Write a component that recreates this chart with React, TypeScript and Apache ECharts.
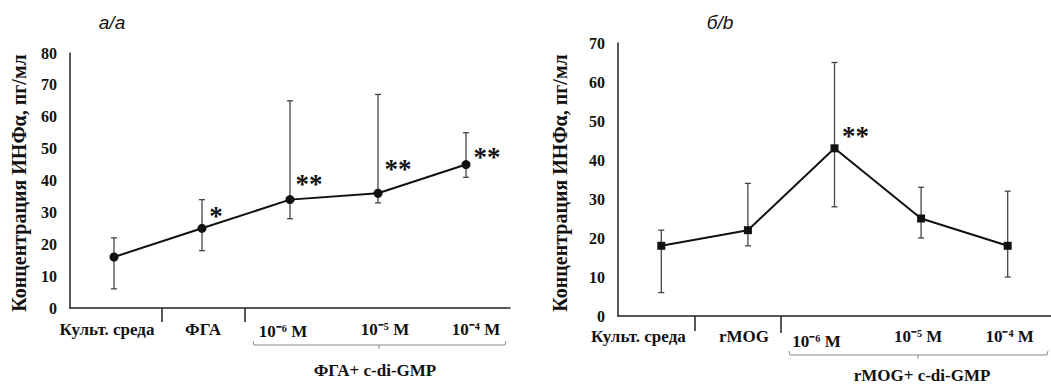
import React, { useEffect, useRef } from "react";
import * as echarts from "echarts";

// ---- data ----
const catsA = ["Культ. среда", "ФГА", "10⁻⁶ M", "10⁻⁵ M", "10⁻⁴ M"];
const meanA = [16, 25, 34, 36, 45];
const lowA = [6, 18, 28, 33, 41];
const highA = [22, 34, 65, 67, 55];
const starsA = ["", "*", "**", "**", "**"];

const catsB = ["Культ. среда", "rMOG", "10⁻⁶ M", "10⁻⁵ M", "10⁻⁴ M"];
const meanB = [18, 22, 43, 25, 18];
const lowB = [6, 18, 28, 20, 10];
const highB = [22, 34, 65, 33, 32];
const starsB = ["", "", "**", "", ""];

const yTitle = "Концентрация ИНФα, пг/мл";
const groupA = "ФГА+ c-di-GMP";
const groupB = "rMOG+ c-di-GMP";
const panelA = "а/a";
const panelB = "б/b";

// ---- styles ----
const SERIF = '"Liberation Serif", "Times New Roman", serif';
const SANS = '"Liberation Sans", Arial, sans-serif';
const AXIS = "#222";
// label padding [top, right, bottom, left] to nudge category labels
const padA = [[0, 14, 0, 0], [0, 0, 0, 2], [2, 14, 0, 0], [0, 0, 0, 14], [0, 0, 0, 20]];
const padB = [[0, 46, 0, 0], [0, 8, 0, 0], [5, 36, 0, 0], [0, 6, 0, 0], [0, 0, 0, 4]];
const starOffA = [[0, 0], [14, -12], [19, -16], [20, -24], [21, -8]];
const starOffB = [[0, 0], [0, 0], [21, -12], [0, 0], [0, 0]];

function errorRender(params: any, api: any) {
  const x = api.value(0);
  const lo = api.coord([x, api.value(1)]);
  const hi = api.coord([x, api.value(2)]);
  const w = 3;
  const style = { stroke: "#444", lineWidth: 1.3 };
  return {
    type: "group",
    children: [
      { type: "line", shape: { x1: lo[0], y1: lo[1], x2: hi[0], y2: hi[1] }, style },
      { type: "line", shape: { x1: lo[0] - w, y1: lo[1], x2: lo[0] + w, y2: lo[1] }, style },
      { type: "line", shape: { x1: hi[0] - w, y1: hi[1], x2: hi[0] + w, y2: hi[1] }, style },
    ],
  };
}

function xAxisFor(cats: string[], pads: number[][], gridIndex: number, margin: number) {
  return {
    type: "category",
    gridIndex,
    data: cats.map((c, i) => ({ value: c, textStyle: { padding: pads[i] } })),
    boundaryGap: true,
    axisLine: { lineStyle: { color: AXIS, width: 1.5 } },
    axisTick: { show: false },
    axisLabel: {
      interval: 0,
      margin,
      fontFamily: SERIF,
      fontWeight: "bold",
      fontSize: 17,
      color: "#111",
    },
    splitLine: { show: false },
  };
}

function yAxisFor(max: number, gridIndex: number) {
  return {
    type: "value",
    gridIndex,
    min: 0,
    max,
    interval: 10,
    axisLine: { show: true, lineStyle: { color: AXIS, width: 1.5 } },
    axisTick: { show: false },
    splitLine: { show: false },
    axisLabel: {
      margin: 13,
      fontFamily: SERIF,
      fontWeight: "bold",
      fontSize: 16,
      color: "#111",
    },
  };
}

function lineSeries(vals: number[], stars: string[], offs: number[][], idx: number, symbol: string, size: number) {
  return {
    type: "line",
    xAxisIndex: idx,
    yAxisIndex: idx,
    data: vals.map((v, i) => ({
      value: v,
      label: stars[i]
        ? {
            show: true,
            position: "inside",
            offset: offs[i],
            formatter: stars[i],
            fontFamily: SERIF,
            fontWeight: "bold",
            fontSize: 27,
            color: "#111",
          }
        : { show: false },
    })),
    symbol,
    symbolSize: size,
    itemStyle: { color: "#111" },
    lineStyle: { color: "#111", width: 2 },
    z: 5,
  };
}

function errSeries(low: number[], high: number[], idx: number) {
  return {
    type: "custom",
    xAxisIndex: idx,
    yAxisIndex: idx,
    renderItem: errorRender,
    encode: { x: 0, y: [1, 2] },
    data: low.map((l, i) => [i, l, high[i]]),
    z: 3,
  };
}

function bracket(x1: number, x2: number, y: number, xm: number) {
  const st = { stroke: "#888", lineWidth: 1 };
  return [
    { type: "polyline", shape: { points: [[x1, y - 4], [x1 + 1, y], [x2 - 1, y], [x2, y - 4]] }, style: { ...st, fill: null } },
    { type: "line", shape: { x1: xm, y1: y, x2: xm, y2: y + 4 }, style: st },
  ];
}

function tick(x: number, y1: number, y2: number) {
  return { type: "line", shape: { x1: x, y1, x2: x, y2 }, style: { stroke: AXIS, lineWidth: 1.5 } };
}

function txt(x: number, y: number, text: string, font: any, rotation = 0) {
  return {
    type: "text",
    x,
    y,
    rotation,
    style: { text, align: "center", verticalAlign: "middle", fill: "#111", ...font },
  };
}

export default function App() {
  const ref = useRef<HTMLDivElement>(null);
  useEffect(() => {
    if (!ref.current) return;
    const chart = echarts.init(ref.current, null, { renderer: "svg" });
    const boldSerif = { fontFamily: SERIF, fontWeight: "bold", fontSize: 17 };
    const titleFont = { fontFamily: SERIF, fontWeight: "bold", fontSize: 20 };
    const panelFont = { fontFamily: SANS, fontStyle: "italic", fontSize: 19 };
    chart.setOption({
      animation: false,
      backgroundColor: "#fff",
      grid: [
        { left: 70, top: 53, width: 440, height: 255 },
        { left: 618, top: 43, width: 443, height: 273 },
      ],
      xAxis: [xAxisFor(catsA, padA, 0, 13), xAxisFor(catsB, padB, 1, 12)],
      yAxis: [yAxisFor(80, 0), yAxisFor(70, 1)],
      series: [
        errSeries(lowA, highA, 0),
        lineSeries(meanA, starsA, starOffA, 0, "circle", 9),
        errSeries(lowB, highB, 1),
        lineSeries(meanB, starsB, starOffB, 1, "rect", 8),
      ],
      graphic: [
        txt(112, 22, panelA, panelFont),
        txt(720, 22, panelB, panelFont),
        txt(19, 183, yTitle, titleFont, Math.PI / 2),
        txt(560, 183, yTitle, titleFont, Math.PI / 2),
        tick(162, 308, 322),
        tick(245, 308, 322),
        tick(695, 316, 331),
        tick(781, 316, 333),
        ...bracket(253, 506, 345, 379),
        ...bracket(789, 1048, 355, 918),
        txt(375, 370, groupA, boldSerif),
        txt(922, 375, groupB, boldSerif),
      ],
    });
    return () => chart.dispose();
  }, []);
  return (
    <div
      ref={ref}
      style={{ position: "fixed", left: 0, top: 0, width: 1051, height: 386, background: "#fff" }}
    />
  );
}
